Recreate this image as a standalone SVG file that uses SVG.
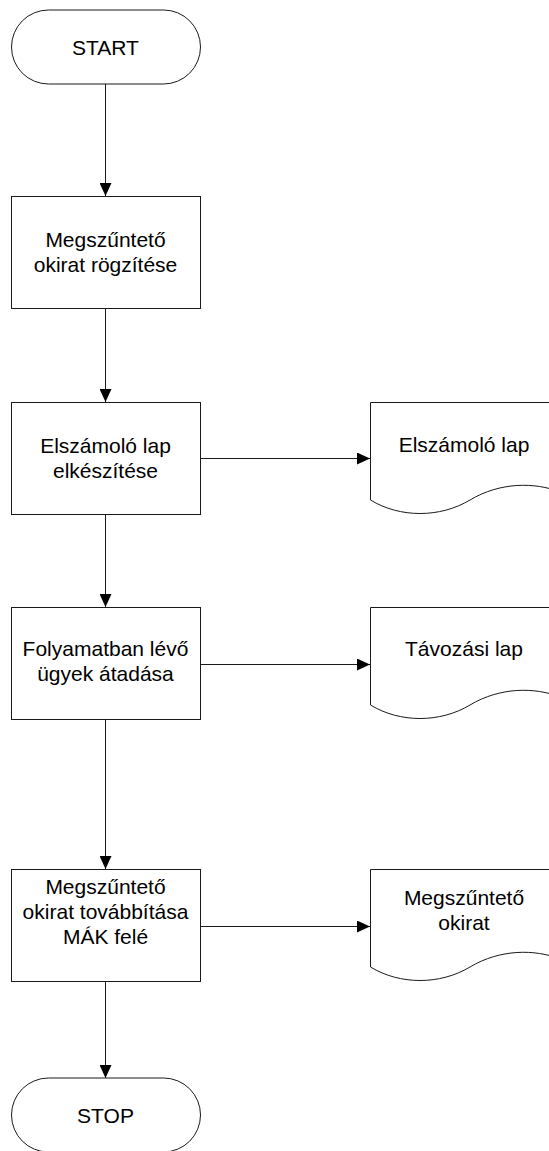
<svg xmlns="http://www.w3.org/2000/svg" width="549" height="1151" viewBox="0 0 549 1151">
  <style>
    .shape { fill: #ffffff; stroke: #1a1a1a; stroke-width: 1; }
    .conn { fill: none; stroke: #1a1a1a; stroke-width: 1; }
    .lbl { font-family: "Liberation Sans", Arial, sans-serif; font-size: 21px; fill: #000000; text-anchor: middle; }
  </style>
  <defs>
    <marker id="arrow" markerUnits="userSpaceOnUse" markerWidth="13" markerHeight="12" refX="13" refY="6" orient="auto">
      <path d="M0,0 L13,6 L0,12 Z" fill="#000000"/>
    </marker>
  </defs>
  <rect width="549" height="1151" fill="#ffffff"/>

  <!-- connectors -->
  <g id="connectors">
    <line class="conn" x1="105.5" y1="84" x2="105.5" y2="196" marker-end="url(#arrow)"/>
    <line class="conn" x1="105.5" y1="308" x2="105.5" y2="402" marker-end="url(#arrow)"/>
    <line class="conn" x1="105.5" y1="514" x2="105.5" y2="607" marker-end="url(#arrow)"/>
    <line class="conn" x1="105.5" y1="719" x2="105.5" y2="869" marker-end="url(#arrow)"/>
    <line class="conn" x1="105.5" y1="981" x2="105.5" y2="1078" marker-end="url(#arrow)"/>
    <line class="conn" x1="200" y1="458.5" x2="370" y2="458.5" marker-end="url(#arrow)"/>
    <line class="conn" x1="200" y1="664.5" x2="370" y2="664.5" marker-end="url(#arrow)"/>
    <line class="conn" x1="200" y1="926.5" x2="370" y2="926.5" marker-end="url(#arrow)"/>
  </g>

  <!-- terminators -->
  <g id="start">
    <rect class="shape" x="11.5" y="10" width="189" height="74" rx="37" ry="37"/>
    <text class="lbl" x="105.5" y="54.5">START</text>
  </g>
  <g id="stop">
    <rect class="shape" x="11.5" y="1078" width="189" height="74" rx="37" ry="37"/>
    <text class="lbl" x="105.5" y="1122.5">STOP</text>
  </g>

  <!-- process steps -->
  <g id="step-rogzites">
    <rect class="shape" x="11.5" y="196.5" width="189" height="112"/>
    <text class="lbl" x="105.5" y="247">Megszűntető</text>
    <text class="lbl" x="105.5" y="272">okirat rögzítése</text>
  </g>
  <g id="step-elszamolo">
    <rect class="shape" x="11.5" y="402.5" width="189" height="112"/>
    <text class="lbl" x="105.5" y="453">Elszámoló lap</text>
    <text class="lbl" x="105.5" y="478">elkészítése</text>
  </g>
  <g id="step-atadas">
    <rect class="shape" x="11.5" y="607.5" width="189" height="112"/>
    <text class="lbl" x="105.5" y="656">Folyamatban lévő</text>
    <text class="lbl" x="105.5" y="681">ügyek átadása</text>
  </g>
  <g id="step-tovabbitas">
    <rect class="shape" x="11.5" y="869.5" width="189" height="112"/>
    <text class="lbl" x="105.5" y="894">Megszűntető</text>
    <text class="lbl" x="105.5" y="919">okirat továbbítása</text>
    <text class="lbl" x="105.5" y="944">MÁK felé</text>
  </g>

  <!-- documents -->
  <g id="doc-elszamolo">
    <path class="shape" d="M370.5,402.5 H560 V492 C535,482 500,482 470,500 C440,518 400,518 370.5,500 Z"/>
    <text class="lbl" x="464" y="452">Elszámoló lap</text>
  </g>
  <g id="doc-tavozasi">
    <path class="shape" d="M370.5,607.5 H560 V697 C535,687 500,687 470,705 C440,723 400,723 370.5,705 Z"/>
    <text class="lbl" x="464" y="656">Távozási lap</text>
  </g>
  <g id="doc-megszunteto">
    <path class="shape" d="M370.5,869.5 H560 V959 C535,949 500,949 470,967 C440,985 400,985 370.5,967 Z"/>
    <text class="lbl" x="464" y="905">Megszűntető</text>
    <text class="lbl" x="464" y="930">okirat</text>
  </g>
</svg>
